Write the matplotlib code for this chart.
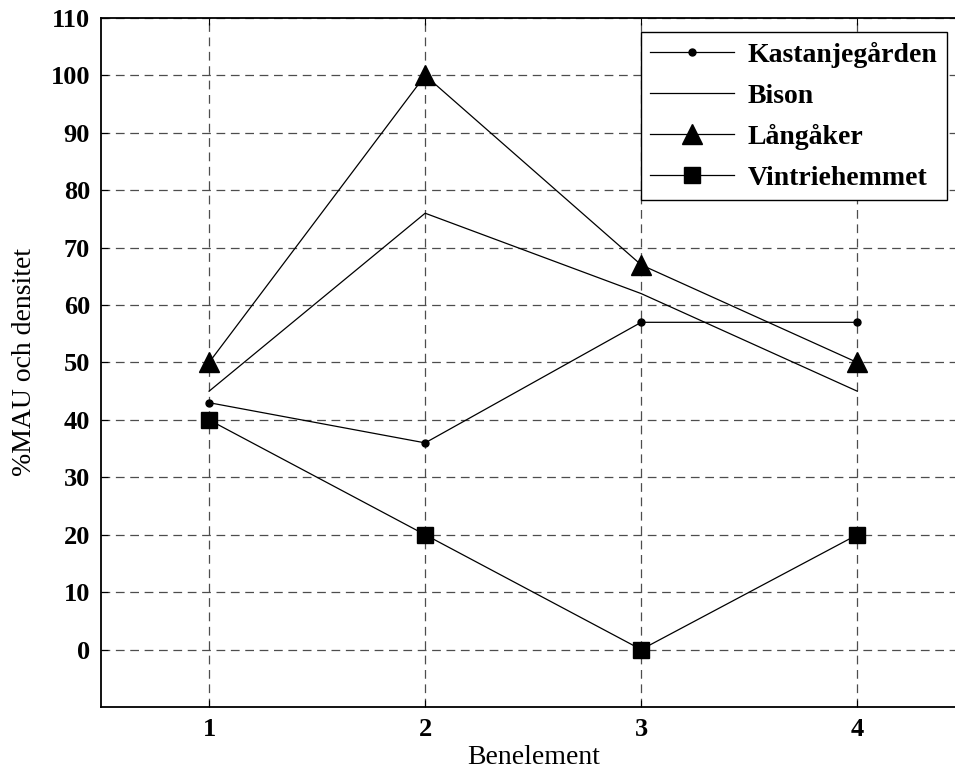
import numpy as np
import matplotlib
matplotlib.use("Agg")
import matplotlib.pyplot as plt

plt.rcParams['font.family'] = ['Liberation Serif', 'DejaVu Serif']

benelement = [1, 2, 3, 4]
kastanjegarden = [43, 36, 57, 57]
bison = [45, 76, 62, 45]
langaker = [50, 100, 67, 50]
vintriehemmet = [40, 20, 0, 20]

yticks = np.arange(0, 111, 10)

fig = plt.figure(figsize=(9.55, 7.73), dpi=100)
ax = fig.add_axes([0.1058, 0.0854, 0.905, 0.8913])

lw = 0.9
ax.plot(benelement, kastanjegarden, '-', marker='o', color='k', lw=lw, ms=5,
        label='Kastanjegården')
ax.plot(benelement, bison, '-', color='k', lw=lw, label='Bison')
ax.plot(benelement, langaker, '-', marker='^', color='k', lw=lw, ms=15,
        label='Långåker')
ax.plot(benelement, vintriehemmet, '-', marker='s', color='k', lw=lw, ms=12,
        label='Vintriehemmet')

ax.set_xlim(0.5, 4.5)
ax.set_ylim(-10, 110)
ax.set_xticks(benelement)
ax.set_yticks(yticks)
ax.grid(True, color='0.3', linestyle=(0, (7, 4.5)), linewidth=0.9)
ax.tick_params(direction='in', length=5, width=0.8, labelsize=19,
               top=True, right=True, pad=8)
for lab in ax.get_xticklabels() + ax.get_yticklabels():
    lab.set_fontweight('bold')
for sp in ax.spines.values():
    sp.set_linewidth(1.3)

ax.set_xlabel('Benelement', fontsize=20, labelpad=3)
ax.set_ylabel('%MAU och densitet', fontsize=20, labelpad=10)

leg = ax.legend(loc='upper right', bbox_to_anchor=(0.979, 0.9797),
                prop={'size': 20, 'weight': 'bold'}, handlelength=3.0,
                fancybox=False, framealpha=1, edgecolor='k',
                borderpad=0.35, labelspacing=0.55, handletextpad=0.5,
                borderaxespad=0)
leg.get_frame().set_linewidth(1.0)

fig.savefig('out.png', dpi=100)
